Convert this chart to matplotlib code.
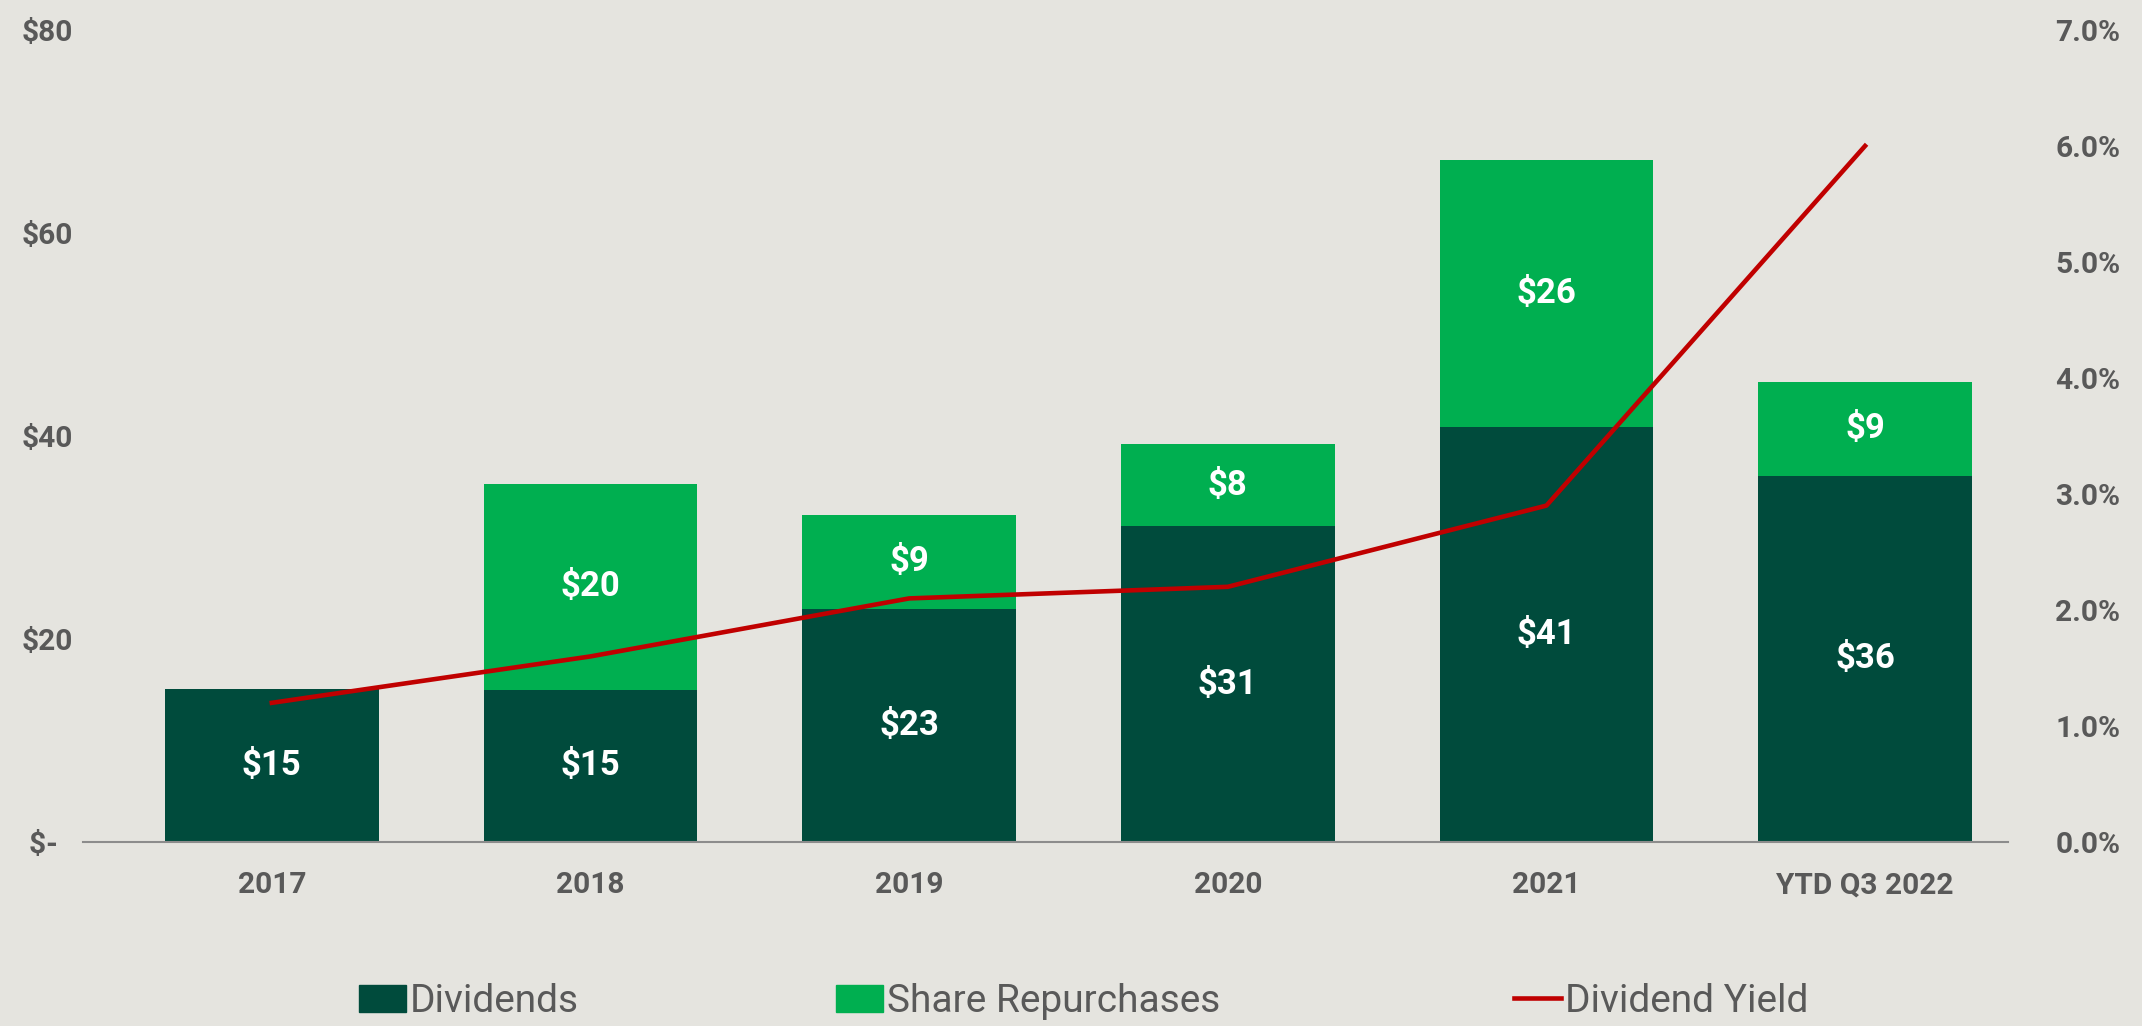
import numpy as np
import matplotlib
matplotlib.use('Agg')
import matplotlib.pyplot as plt
from matplotlib.lines import Line2D
from matplotlib.patches import Patch

plt.rcParams['font.family'] = ['Roboto', 'DejaVu Sans']

# data
years = ['2017', '2018', '2019', '2020', '2021', 'YTD Q3 2022']
dividends = [15.1, 15.0, 23.0, 31.1, 40.9, 36.1]
repurchases = [0.0, 20.3, 9.2, 8.1, 26.3, 9.2]
div_labels = ['$15', '$15', '$23', '$31', '$41', '$36']
rep_labels = ['', '$20', '$9', '$8', '$26', '$9']
yield_pct = [1.2, 1.6, 2.1, 2.2, 2.9, 6.0]

bg = '#E5E4DF'
dark = '#004B3C'
bright = '#00AF50'
red = '#C00000'
grey = '#595959'

fig = plt.figure(figsize=(21.42, 10.26), dpi=100, facecolor=bg)
ax = fig.add_axes([0.0387, 0.1793, 0.8988, 0.7915])
ax.set_facecolor(bg)
x = np.arange(len(years))

b1 = ax.bar(x, dividends, width=0.67, color=dark, zorder=2)
b2 = ax.bar(x, repurchases, width=0.67, bottom=dividends, color=bright, zorder=2)

for i in range(len(years)):
    ax.text(x[i], dividends[i] / 2, div_labels[i], ha='center', va='center',
            color='white', fontsize=25, fontweight='bold', zorder=4)
    if rep_labels[i]:
        ax.text(x[i], dividends[i] + repurchases[i] / 2, rep_labels[i], ha='center',
                va='center', color='white', fontsize=25, fontweight='bold', zorder=4)

ax.set_xlim(-0.593, 5.449)
ax.set_ylim(0, 80)
ax.set_yticks([0, 20, 40, 60, 80])
ax.set_yticklabels(['$-  ', '$20', '$40', '$60', '$80'])
ax.set_xticks(x)
ax.set_xticklabels(years)
for s in ['top', 'right', 'left']:
    ax.spines[s].set_visible(False)
ax.spines['bottom'].set_color('#8c8c8c')
ax.spines['bottom'].set_linewidth(1.5)
ax.tick_params(axis='x', length=0, pad=21, labelsize=21.5, labelcolor=grey)
ax.tick_params(axis='y', length=0, pad=7, labelsize=21.5, labelcolor=grey)
for t in ax.get_xticklabels() + ax.get_yticklabels():
    t.set_fontweight('bold')

ax2 = ax.twinx()
ax2.plot(x, yield_pct, color=red, lw=3.3, zorder=5)
ax2.set_ylim(0, 7)
ax2.set_yticks(np.arange(0, 8, 1))
ax2.set_yticklabels([f'{v:.1f}%' for v in range(8)])
for s in ['top', 'right', 'left', 'bottom']:
    ax2.spines[s].set_visible(False)
ax2.tick_params(axis='y', length=0, pad=34, labelsize=21.5, labelcolor=grey)
for t in ax2.get_yticklabels():
    t.set_fontweight('bold')

# legend, one entry per box so the spacing follows the original
items = [(Patch(color=dark), 'Dividends', 0.1676),
         (Patch(color=bright), 'Share Repurchases', 0.3903),
         (Line2D([0], [0], color=red, lw=3.3), 'Dividend Yield', 0.7068)]
for h, lab, xp in items:
    leg = fig.legend([h], [lab], loc='center left', bbox_to_anchor=(xp, 0.024),
                     frameon=False, fontsize=28, handlelength=1.2, handletextpad=0.1,
                     borderpad=0, borderaxespad=0)
    for t in leg.get_texts():
        t.set_color(grey)

fig.savefig('out.png', dpi=100, facecolor=bg)
